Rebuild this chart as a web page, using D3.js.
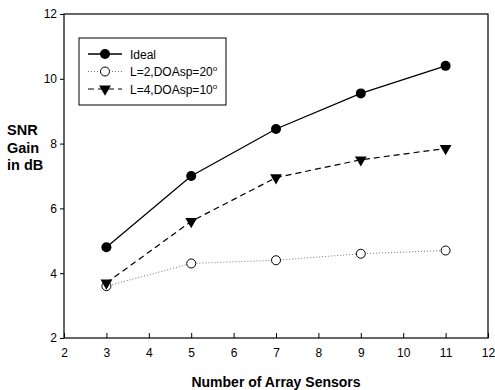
<!DOCTYPE html>
<html>
<head>
<meta charset="utf-8">
<script src="https://cdn.jsdelivr.net/npm/d3@7"></script>
<style>
  body { margin: 0; background: #fff; }
  svg { font-family: "Liberation Sans", Arial, sans-serif; }
</style>
</head>
<body>
<div id="chart"></div>
<script>
// data
let sensors = [3, 5, 7, 9, 11]
let ideal = [4.8, 7.0, 8.45, 9.55, 10.4]
let l2 = [3.6, 4.3, 4.4, 4.6, 4.7]
let l4 = [3.7, 5.6, 6.95, 7.5, 7.85]
let xTicks = [2, 3, 4, 5, 6, 7, 8, 9, 10, 11, 12]
let yTicks = [2, 4, 6, 8, 10, 12]
let seriesNames = ["Ideal", "L=2,DOAsp=20", "L=4,DOAsp=10"]

let W = 495, H = 390
let m = {left: 64, right: 7, top: 14, bottom: 52}

let svg = d3.select("#chart")
            .append("svg")
                .attr("width", W)
                .attr("height", H)

let x = d3.scaleLinear().domain([2, 12]).range([m.left, W - m.right])
let y = d3.scaleLinear().domain([2, 12]).range([H - m.bottom, m.top])

// frame
svg.append("rect")
    .attr("x", x(2)).attr("y", y(12))
    .attr("width", x(12) - x(2)).attr("height", y(2) - y(12))
    .attr("fill", "none").attr("stroke", "#000").attr("stroke-width", 1.2)

// axes
let xAxis = svg.append("g")
    .attr("transform", `translate(0,${y(2)})`)
    .call(d3.axisBottom(x).tickValues(xTicks).tickSize(-5).tickPadding(10).tickFormat(d3.format("d")))
let yAxis = svg.append("g")
    .attr("transform", `translate(${x(2)},0)`)
    .call(d3.axisLeft(y).tickValues(yTicks).tickSize(4).tickPadding(3).tickFormat(d3.format("d")))

for (let ax of [xAxis, yAxis]) {
    ax.select(".domain").remove()
    ax.selectAll("text").attr("font-size", 12).attr("fill", "#000")
        .attr("font-family", "Liberation Sans, Arial, sans-serif")
    ax.selectAll("line").attr("stroke", "#000")
}

// axis titles
svg.append("text")
    .attr("x", (x(2) + x(12)) / 2).attr("y", 387)
    .attr("text-anchor", "middle")
    .attr("font-weight", "bold").attr("font-size", 14)
    .text("Number of Array Sensors")

let ylab = svg.append("text")
    .attr("x", 7).attr("font-weight", "bold").attr("font-size", 14.5)
;["SNR", "Gain", "in dB"].forEach((t, i) => {
    ylab.append("tspan").attr("x", 7).attr("y", 135 + i * 17.5).text(t)
})

let series = [
    {name: seriesNames[0], vals: ideal, dash: null, stroke: "#000", width: 1.3, marker: "filled"},
    {name: seriesNames[1], vals: l2, dash: "1,2", stroke: "#777", width: 1, marker: "open"},
    {name: seriesNames[2], vals: l4, dash: "6,4", stroke: "#000", width: 1.2, marker: "tri"}
]

let line = d3.line().x(d => x(d[0])).y(d => y(d[1]))

function drawMarker(g, type, cx, cy) {
    if (type == "filled") {
        g.append("circle").attr("cx", cx).attr("cy", cy).attr("r", 5).attr("fill", "#000")
    } else if (type == "open") {
        g.append("circle").attr("cx", cx).attr("cy", cy).attr("r", 4.5)
            .attr("fill", "#fff").attr("stroke", "#000").attr("stroke-width", 1)
    } else {
        g.append("path")
            .attr("d", d3.symbol(d3.symbolTriangle, 60)())
            .attr("transform", `translate(${cx},${cy}) rotate(180)`)
            .attr("fill", "#000")
    }
}

series.forEach(s => {
    let pts = sensors.map((v, i) => [v, s.vals[i]])
    svg.append("path")
        .attr("d", line(pts))
        .attr("fill", "none")
        .attr("stroke", s.stroke)
        .attr("stroke-width", s.width)
        .attr("stroke-dasharray", s.dash)
    let g = svg.append("g")
    pts.forEach(p => drawMarker(g, s.marker, x(p[0]), y(p[1])))
})

// legend
let leg = svg.append("g")
leg.append("rect")
    .attr("x", 79).attr("y", 38).attr("width", 147).attr("height", 67)
    .attr("fill", "#fff").attr("stroke", "#000").attr("stroke-width", 1)

series.forEach((s, i) => {
    let ly = 54 + i * 17.5
    leg.append("line")
        .attr("x1", 88).attr("x2", 122).attr("y1", ly).attr("y2", ly)
        .attr("stroke", s.stroke).attr("stroke-width", s.width)
        .attr("stroke-dasharray", s.dash)
    drawMarker(leg, s.marker, 105, ly)
    let t = leg.append("text")
        .attr("x", 130).attr("y", ly + 4.5)
        .attr("font-size", 12)
        .text(s.name)
    if (i > 0) t.append("tspan").attr("dy", -5).attr("font-size", 8).text("o")
})
</script>
</body>
</html>
